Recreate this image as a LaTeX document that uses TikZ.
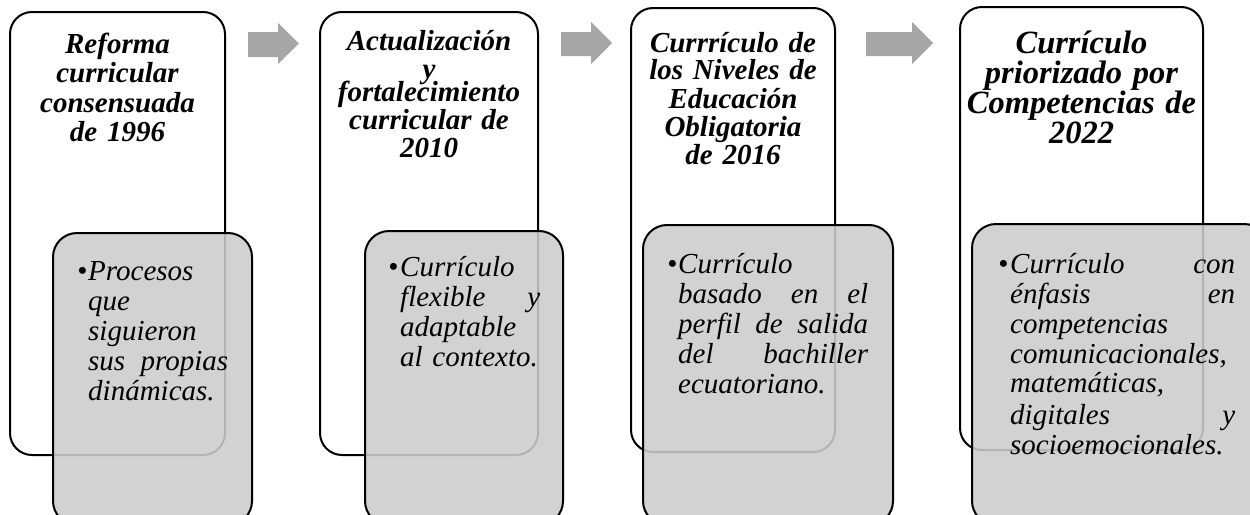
\documentclass[tikz,border=0pt]{standalone}
\usepackage{fontspec}
\setmainfont{Liberation Serif}
\definecolor{boxgray}{RGB}{204,204,204}
\definecolor{arrowgray}{RGB}{166,166,166}
\begin{document}
\begin{tikzpicture}[x=1pt,y=-1pt,
  whitebox/.style={draw=black,line width=2pt,fill=white,rounded corners=22pt},
  graybox/.style={draw=black,line width=2pt,fill=boxgray,fill opacity=0.88,draw opacity=1,rounded corners=24pt},
  ttl/.style={font=\fontsize{29}{28}\selectfont\bfseries\itshape,align=center,inner sep=0pt,anchor=base},
  bodytext/.style={font=\fontsize{29}{30}\selectfont\itshape,inner sep=0pt,anchor=base west},
  blockarrow/.style={fill=arrowgray}]
\useasboundingbox (0,0) rectangle (1250,514);
\clip (0,0) rectangle (1250,514);
% white boxes
\draw[whitebox] (10,12) rectangle (225,455);
\draw[whitebox] (320,12) rectangle (538,455);
\draw[whitebox] (631,8) rectangle (835,452);
\draw[whitebox] (960,7) rectangle (1203,450);
% titles
\node[ttl,text width=205pt] (t1) at (117.5,53) {Reforma\\[1pt] curricular\\[2pt] consensuada\\[1pt] de 1996};
\node[ttl,text width=212pt] (t2) at (429,50) {Actualización};
\node[ttl,text width=212pt] (t2y) at (429,78) {y};
\node[ttl,text width=212pt] (t2b) at (429,101) {fortalecimiento\\ curricular de\\ 2010};
\node[ttl,text width=200pt] (t3) at (733,52) {Currrículo de\\ los Niveles de\\ Educación\\ Obligatoria\\ de 2016};
\node[ttl,text width=240pt,font=\fontsize{32.5}{28}\selectfont\bfseries\itshape] (t4) at (1081.5,53) {Currículo\\[2pt] priorizado por\\ Competencias de\\[0pt] 2022};
% arrows
\fill[blockarrow] (248,32) -- (278,32) -- (278,23) -- (299,43.5) -- (278,64) -- (278,57) -- (248,57) -- cycle;
\fill[blockarrow] (561,32) -- (591,32) -- (591,22) -- (612,43) -- (591,64) -- (591,56) -- (561,56) -- cycle;
\fill[blockarrow] (866,32) -- (912,32) -- (912,22) -- (933,43) -- (912,64) -- (912,56) -- (866,56) -- cycle;
% gray boxes
\draw[graybox] (53,233) rectangle (252,525);
\draw[graybox] (365,231) rectangle (563,525);
\draw[graybox] (643,225) rectangle (893,525);
\draw[graybox] (972,224) rectangle (1268,525);
% bullets
\node[bodytext] (d1) at (77,280) {\textbullet};
\node[bodytext] (d2) at (388,276) {\textbullet};
\node[bodytext] (d3) at (667,273) {\textbullet};
\node[bodytext] (d4) at (998,273) {\textbullet};
% body texts
\node[bodytext,text width=140pt] (b1) at (88,280) {Procesos\\ que\\ siguieron\\ sus\hfill propias\\ dinámicas.};
\node[bodytext,text width=140pt] (b2) at (400,276) {Currículo\\ flexible\hfill y\\ adaptable\\ al contexto.};
\node[bodytext,text width=190pt] (b3) at (678,273) {Currículo\\ basado\hfill en\hfill el\\ perfil\hfill de\hfill salida\\ del\hfill bachiller\\ ecuatoriano.};
\node[bodytext,text width=225pt] (b4) at (1010,273) {Currículo\hfill con\\ énfasis\hfill en\\ competencias\\ comunicacionales,\\[-1pt] matemáticas,\\[2pt] digitales\hfill y\\ socioemocionales.};
\end{tikzpicture}
\end{document}
